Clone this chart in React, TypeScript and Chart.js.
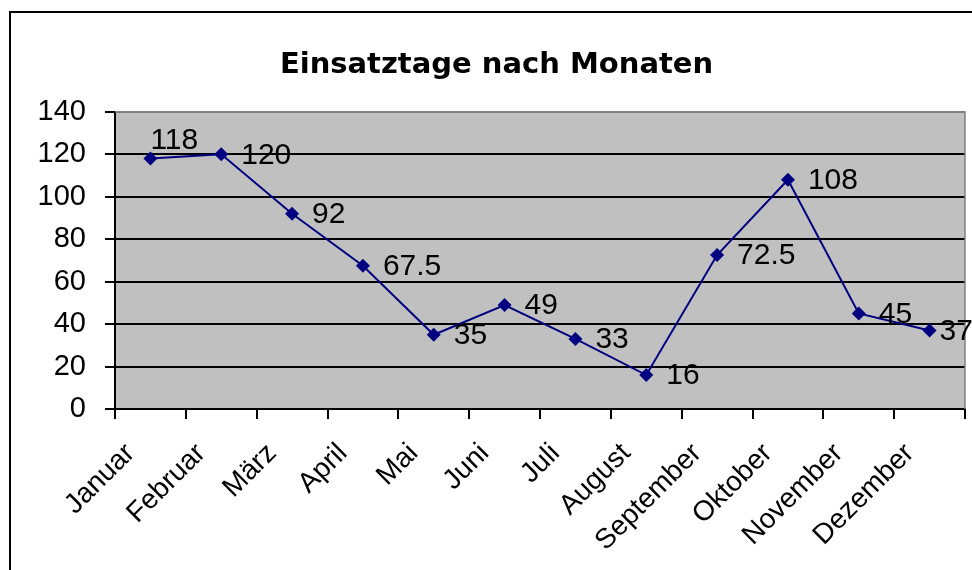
import React, { useEffect, useRef } from "react";
import { Chart, registerables } from "chart.js";

Chart.register(...registerables);

const months = [
  "Januar", "Februar", "März", "April", "Mai", "Juni",
  "Juli", "August", "September", "Oktober", "November", "Dezember",
];
const einsatztage = [118, 120, 92, 67.5, 35, 49, 33, 16, 72.5, 108, 45, 37];
const labelPlacement = [
  "above", "right", "right", "right", "right", "right",
  "right", "right", "right", "right", "right", "near",
];
const yMin = 0;
const yMax = 140;
const yStep = 20;
const titleText = "Einsatztage nach Monaten";

const ARIAL = '"Liberation Sans", Arial, sans-serif';
const VERDANA = '"DejaVu Sans", Verdana, sans-serif';

const decorPlugin = {
  id: "decor",
  beforeDraw(chart: any) {
    const { ctx, chartArea, width, height } = chart;
    ctx.save();
    ctx.fillStyle = "#ffffff";
    ctx.fillRect(0, 0, width, height);
    ctx.fillStyle = "#C0C0C0";
    ctx.fillRect(chartArea.left, chartArea.top, chartArea.right - chartArea.left, chartArea.bottom - chartArea.top);
    ctx.restore();
  },
  beforeDatasetsDraw(chart: any) {
    const { ctx, chartArea } = chart;
    ctx.save();
    ctx.strokeStyle = "#808080";
    ctx.lineWidth = 1.5;
    ctx.beginPath();
    ctx.moveTo(chartArea.left, chartArea.top);
    ctx.lineTo(chartArea.right, chartArea.top);
    ctx.lineTo(chartArea.right, chartArea.bottom);
    ctx.stroke();
    ctx.restore();
  },
  afterDraw(chart: any) {
    const { ctx } = chart;
    ctx.save();
    ctx.strokeStyle = "#000000";
    ctx.lineWidth = 2;
    ctx.strokeRect(10, 12, 1200, 1200);
    ctx.restore();
  },
};

const valueLabelPlugin = {
  id: "valueLabels",
  afterDatasetsDraw(chart: any) {
    const { ctx } = chart;
    const meta = chart.getDatasetMeta(0);
    ctx.save();
    ctx.font = `30px ${ARIAL}`;
    ctx.fillStyle = "#000000";
    ctx.textAlign = "left";
    ctx.textBaseline = "middle";
    meta.data.forEach((pt: any, i: number) => {
      const text = String(einsatztage[i]);
      const place = labelPlacement[i];
      if (place === "above") {
        ctx.fillText(text, pt.x, pt.y - 18);
      } else if (place === "near") {
        ctx.fillText(text, pt.x + 10, pt.y + 1);
      } else {
        ctx.fillText(text, pt.x + 20, pt.y + 1);
      }
    });
    ctx.restore();
  },
};

export default function App() {
  const canvasRef = useRef<HTMLCanvasElement | null>(null);

  useEffect(() => {
    document.body.style.margin = "0";
    const canvas = canvasRef.current;
    if (!canvas) return;
    const chart = new Chart(canvas, {
      type: "line",
      data: {
        labels: months,
        datasets: [
          {
            data: einsatztage,
            borderColor: "#000080",
            backgroundColor: "#000080",
            borderWidth: 2,
            pointStyle: "rectRot",
            pointRadius: 7,
            pointBorderWidth: 0,
            pointBackgroundColor: "#000080",
            tension: 0,
            fill: false,
          },
        ],
      },
      options: {
        responsive: false,
        animation: false,
        layout: { padding: { left: 27, right: 6, top: 0, bottom: 0 } },
        plugins: {
          legend: { display: false },
          tooltip: { enabled: false },
          title: {
            display: true,
            text: titleText,
            color: "#000000",
            font: { family: VERDANA, size: 29, weight: "bold", lineHeight: 1.2 },
            padding: { top: 48, bottom: 29 },
          },
        },
        scales: {
          x: {
            type: "category",
            offset: true,
            afterFit(scale: any) {
              scale.height = 161;
            },
            grid: {
              offset: true,
              drawOnChartArea: false,
              drawTicks: true,
              tickLength: 10,
              tickColor: "#000000",
              lineWidth: 2,
            },
            border: { color: "#000000", width: 2 },
            ticks: {
              autoSkip: false,
              minRotation: 45,
              maxRotation: 45,
              color: "#000000",
              font: { family: ARIAL, size: 28 },
              padding: 18,
              labelOffset: -20,
            },
          },
          y: {
            min: yMin,
            max: yMax,
            afterFit(scale: any) {
              scale.width = 88;
            },
            grid: {
              color: (c: any) => (c.tick && c.tick.value === yMax ? "#808080" : "#000000"),
              tickColor: "#000000",
              lineWidth: 2,
              tickLength: 10,
              drawTicks: true,
            },
            border: { color: "#000000", width: 2 },
            ticks: {
              stepSize: yStep,
              color: "#000000",
              font: { family: ARIAL, size: 29 },
              padding: 19,
            },
          },
        },
      },
      plugins: [decorPlugin, valueLabelPlugin],
    });
    return () => chart.destroy();
  }, []);

  return (
    <div style={{ position: "absolute", left: 0, top: 0, width: 972, height: 570 }}>
      <canvas ref={canvasRef} width={972} height={570} style={{ width: 972, height: 570, display: "block" }} />
    </div>
  );
}
